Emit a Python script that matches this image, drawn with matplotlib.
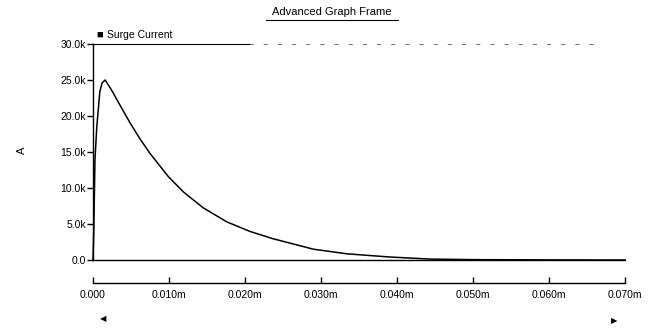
import numpy as np
import matplotlib.pyplot as plt
from matplotlib.lines import Line2D

plt.rcParams['font.family'] = ['Liberation Sans', 'DejaVu Sans']

# surge current waveform (seconds, amperes)
time_s = [0.0, 0.0001, 0.00026, 0.0005, 0.0009, 0.0012, 0.0016, 0.0025, 0.0035,
          0.0049, 0.0062, 0.0075, 0.0099, 0.0119, 0.0145, 0.0176, 0.0207, 0.0237,
          0.0270, 0.0290, 0.0334, 0.0390, 0.0443, 0.0500, 0.0600, 0.0700]
current_a = [0, 4000, 14000, 18500, 23400, 24600, 25000, 23500, 21600,
             19000, 16800, 14800, 11600, 9450, 7250, 5300, 3950, 2950,
             2050, 1500, 860, 420, 130, 50, 15, 0]

x_ticks = [0.0, 0.01, 0.02, 0.03, 0.04, 0.05, 0.06, 0.07]
x_labels = ['0.000', '0.010m', '0.020m', '0.030m', '0.040m', '0.050m', '0.060m', '0.070m']
y_ticks = [0, 5000, 10000, 15000, 20000, 25000, 30000]
y_labels = ['0.0', '5.0k', '10.0k', '15.0k', '20.0k', '25.0k', '30.0k']

W, H = 653, 332
fig = plt.figure(figsize=(W / 100, H / 100), dpi=100)
ax = fig.add_axes([93 / W, 1 - 260 / H, (625 - 93) / W, (260 - 44) / H])

ax.plot(time_s, current_a, color='black', lw=1.1, clip_on=False)
ax.axhline(0, color='black', lw=1.0, clip_on=False)

ax.set_xlim(0, 0.07)
ax.set_ylim(0, 30000)

# frame: solid top edge near the legend, broken further right
ax.spines['right'].set_visible(False)
ax.spines['top'].set_bounds(0, 0.0205)
ax.spines['top'].set_linewidth(0.8)
ax.axhline(30000, xmin=0.293, xmax=0.95, color='#555555', lw=0.6,
           linestyle=(0, (5, 12)), clip_on=False)
ax.spines['left'].set_linewidth(1.0)
ax.spines['bottom'].set_position(('outward', 16.5))
ax.spines['bottom'].set_linewidth(1.0)

ax.set_yticks(y_ticks)
ax.set_yticklabels(y_labels)
ax.set_xticks(x_ticks)
ax.set_xticklabels(x_labels)
ax.tick_params(axis='y', direction='out', length=4, width=1, labelsize=7.5, pad=1)
ax.tick_params(axis='x', direction='in', length=4, width=1, labelsize=7.5, pad=5)

ax.set_ylabel('A', fontsize=8, rotation=90)
ax.yaxis.set_label_coords(-0.125, 0.51)

# title with underline
fig.text(332 / W, 1 - 12 / H, 'Advanced Graph Frame', ha='center', va='center', fontsize=8)
fig.add_artist(Line2D([266 / W, 398 / W], [1 - 20 / H, 1 - 20 / H], color='black', lw=0.8))

# legend entry
fig.text(96 / W, 1 - 35 / H, '\u25a0', ha='left', va='center', fontsize=8)
fig.text(107 / W, 1 - 35 / H, 'Surge Current', ha='left', va='center', fontsize=7.5)

# scroll arrows
fig.text(103 / W, 1 - 320 / H, '\u25c0', ha='center', va='center', fontsize=6)
fig.text(614 / W, 1 - 322 / H, '\u25b6', ha='center', va='center', fontsize=6)

fig.savefig('out.png', dpi=100, facecolor='white')
